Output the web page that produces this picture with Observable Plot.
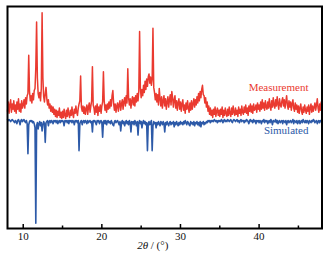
<!DOCTYPE html>
<html>
<head>
<meta charset="utf-8">
<script src="https://cdn.jsdelivr.net/npm/d3@7"></script>
<script src="https://cdn.jsdelivr.net/npm/@observablehq/plot@0.6"></script>
<style>
  html, body { margin: 0; padding: 0; background: #fff; }
  svg text { font-family: "Liberation Serif", "Times New Roman", serif !important; }
</style>
</head>
<body>
<div id="chart"></div>
<script>
// 2θ grid: 8.0° to 48.0° in 0.1° steps
const angleStart = 8.0;
const angleStep = 0.1;

// Measured intensity (a.u.), one value per 0.1°, rows = 1° each
const measured = [
  8,17,6,14,19,7,15,10,18,8,        // 8
  14,6,17,10,20,8,15,7,18,11,       // 9
  14,19,11,21,15,23,25,62,27,18,    // 10
  23,16,25,19,28,30,50,94,40,25,    // 11
  21,26,18,30,103,40,22,17,25,31,   // 12
  20,14,19,11,15,8,13,7,12,5,       // 13
  10,3,9,2,8,4,11,2,7,1,            // 14
  8,2,10,4,1,9,3,11,5,2,            // 15
  9,4,12,5,2,10,6,13,7,4,           // 16
  11,15,18,42,12,8,13,6,12,5,       // 17
  10,14,5,12,16,7,13,18,51,14,      // 18
  11,5,13,7,15,4,12,8,14,6,         // 19
  13,17,46,18,9,14,7,15,10,17,      // 20
  11,19,13,23,28,15,9,15,7,13,      // 21
  16,8,14,18,9,15,19,10,17,21,      // 22
  13,23,16,49,21,14,20,11,18,22,    // 23
  14,21,13,23,17,25,18,27,85,30,    // 24
  21,29,23,33,26,37,29,39,32,41,    // 25
  44,35,41,33,39,88,31,26,19,25,    // 26
  17,24,14,30,20,13,22,11,18,23,    // 27
  13,20,10,17,22,12,19,24,14,27,    // 28
  21,12,19,23,11,18,9,16,20,10,     // 29
  17,8,15,19,9,14,6,16,10,18,       // 30
  11,7,16,9,18,10,15,20,12,19,      // 31
  14,22,16,25,18,27,21,29,33,24,    // 32
  23,16,21,12,17,8,13,5,11,4,       // 33
  9,2,10,5,12,3,8,11,4,9,           // 34
  3,10,5,12,2,9,4,11,6,3,           // 35
  10,4,12,6,3,11,5,13,7,4,          // 36
  11,5,9,3,12,6,10,4,13,7,          // 37
  5,12,7,14,6,11,4,13,8,15,         // 38
  7,13,6,15,9,10,14,7,16,10,        // 39
  14,8,17,10,19,11,16,9,18,12,      // 40
  10,17,11,20,13,9,18,12,21,14,     // 41
  11,19,13,22,15,10,20,14,12,18,    // 42
  21,13,19,11,17,23,14,10,18,12,    // 43
  17,9,15,19,11,8,16,10,14,7,       // 44
  13,6,11,15,8,5,12,7,14,9,         // 45
  6,12,8,14,5,11,15,7,13,8,         // 46
  12,16,9,14,20,11,7,15,9,17,       // 47
  11                                // 48.0
];

// Simulated intensity (a.u.), drawn downward
const simulated = [
  0,1,0,1,2,1,0,1,2,3,              // 8
  1,2,4,1,0,2,5,1,0,2,              // 9
  1,0,2,3,1,4,33,5,2,1,             // 10
  2,1,3,2,4,8,100,6,3,9,            // 11
  4,2,6,3,11,5,2,4,22,3,            // 12
  2,1,6,2,1,3,1,2,4,1,              // 13
  2,1,3,1,4,2,1,3,1,2,              // 14
  1,2,6,1,2,1,3,1,4,1,              // 15
  2,1,3,1,2,5,1,2,1,3,              // 16
  1,30,4,2,1,5,2,1,3,1,             // 17
  2,4,1,3,2,1,3,2,12,1,             // 18
  2,1,3,5,1,2,1,4,2,1,              // 19
  3,17,2,1,4,1,5,2,1,3,             // 20
  2,4,1,3,5,6,2,1,3,2,              // 21
  1,3,5,2,11,3,1,4,2,6,             // 22
  3,1,4,2,5,1,3,12,2,4,             // 23
  2,5,1,3,6,2,15,3,1,4,             // 24
  2,8,3,1,4,2,5,3,30,4,             // 25
  2,5,3,1,30,6,2,4,3,8,             // 26
  3,5,2,4,6,2,3,5,2,4,              // 27
  12,3,5,2,4,6,3,2,5,3,             // 28
  4,2,7,3,5,2,4,6,3,5,              // 29
  2,4,3,5,2,4,1,3,5,2,              // 30
  3,5,6,2,4,3,5,2,6,3,              // 31
  4,2,5,3,6,2,7,3,4,2,              // 32
  5,3,4,2,3,1,2,1,3,1,              // 33
  2,1,2,0,1,2,1,3,1,2,              // 34
  1,2,0,1,3,1,0,2,1,2,              // 35
  0,1,2,1,0,2,3,1,0,1,              // 36
  2,1,0,2,1,3,1,0,2,1,              // 37
  1,3,1,2,0,1,2,4,1,0,              // 38
  2,1,3,0,2,1,4,1,2,1,              // 39
  3,1,2,4,1,2,0,3,1,2,              // 40
  1,4,2,1,3,0,2,5,1,2,              // 41
  2,0,3,1,4,2,1,3,2,1,              // 42
  4,1,2,3,1,5,2,1,3,2,              // 43
  1,3,2,0,4,1,2,3,1,4,              // 44
  2,1,4,2,1,3,0,2,3,1,              // 45
  3,1,2,4,1,2,3,1,2,0,              // 46
  1,3,2,1,4,2,1,3,1,2,              // 47
  1                                 // 48.0
];

const majorTicks = [10, 20, 30, 40];
const minorTicks = [15, 25, 35, 45];
const seriesNames = ["Measurement", "Simulated"];
const xLabel = "2θ / (°)";

const measRows = measured.map((v, i) => ({angle: angleStart + i * angleStep, value: v}));
const simRows = simulated.map((v, i) => ({angle: angleStart + i * angleStep, value: -v}));

const red = "#ea3a30";
const blue = "#2d5aa8";
const serif = "Liberation Serif";

const chart = Plot.plot({
  width: 327,
  height: 261,
  marginLeft: 7,
  marginRight: 5.5,
  marginTop: 6,
  marginBottom: 33,
  style: {fontFamily: serif, fontSize: "11px", background: "#fff", color: "#111"},
  x: {domain: [8, 48]},
  y: {domain: [-105.1, 109]},
  marks: [
    Plot.line(measRows, {x: "angle", y: "value", stroke: red, strokeWidth: 1.5}),
    Plot.line(simRows, {x: "angle", y: "value", stroke: blue, strokeWidth: 1.6}),
    Plot.ruleX(majorTicks, {x: d => d, insetTop: 218, stroke: "#000", strokeWidth: 1.5}),
    Plot.ruleX(minorTicks, {x: d => d, insetTop: 219.5, stroke: "#000", strokeWidth: 1.5}),
    Plot.axisX({ticks: majorTicks, tickSize: 0, tickPadding: 4, fontSize: 11, label: null}),
    Plot.axisY({ticks: [], label: null, tickSize: 0}),
    Plot.frame({stroke: "#000", strokeWidth: 2}),
    Plot.text([seriesNames[0]], {frameAnchor: "top-right", textAnchor: "end", lineAnchor: "top", dx: -13.5, dy: 76.5, fill: red, fontSize: 11}),
    Plot.text([seriesNames[1]], {frameAnchor: "top-right", textAnchor: "end", lineAnchor: "top", dx: -13.5, dy: 120, fill: blue, fontSize: 11}),
    Plot.text([xLabel], {frameAnchor: "bottom", dx: -12, dy: 20, fontSize: 11, fill: "#111", className: "xlabel"})
  ]
});

document.getElementById("chart").appendChild(chart);

// italicise "2θ" in the axis label
d3.select(chart).selectAll("g.xlabel text").each(function () {
  const t = this.textContent;
  if (t.startsWith("2θ")) {
    const sel = d3.select(this);
    sel.text(null);
    sel.append("tspan").attr("font-style", "italic").text("2θ");
    sel.append("tspan").text(t.slice(2));
  }
});
</script>
</body>
</html>
